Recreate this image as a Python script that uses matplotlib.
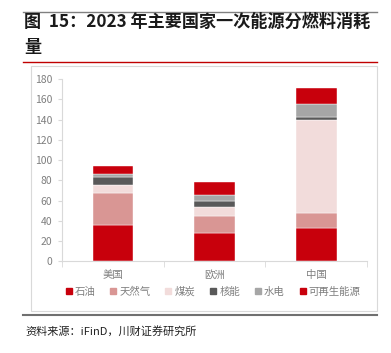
import numpy as np
import matplotlib.pyplot as plt
from matplotlib.patches import Rectangle
from matplotlib.lines import Line2D

plt.rcParams['font.family'] = ['Noto Sans CJK SC', 'DejaVu Sans']

regions = ['美国', '欧洲', '中国']
fuels = ['石油', '天然气', '煤炭', '核能', '水电', '可再生能源']
oil = [35.5, 28.0, 32.6]
gas = [31.9, 16.8, 14.8]
coal = [8.2, 8.9, 91.8]
nuclear = [7.9, 6.2, 3.5]
hydro = [2.4, 5.6, 12.4]
renew = [8.1, 12.6, 16.0]
colors = ['#C8000C', '#D99694', '#F2DCDB', '#595959', '#A6A6A6', '#C8000C']
yticks = [0, 20, 40, 60, 80, 100, 120, 140, 160, 180]

W, H = 391, 353
fig = plt.figure(figsize=(W / 100, H / 100), dpi=100)

# header / footer rules and chart frame
fig.add_artist(Line2D([23 / W, 377 / W], [1 - 12 / H, 1 - 12 / H], color='#808080', lw=1))
fig.add_artist(Line2D([23 / W, 377 / W], [1 - 62 / H, 1 - 62 / H], color='#C00000', lw=1))
fig.add_artist(Line2D([23 / W, 377 / W], [1 - 315 / H, 1 - 315 / H], color='#707070', lw=1.5))
fig.add_artist(Rectangle((31 / W, 1 - 311 / H), 346 / W, 245 / H, fill=False,
                         ec='#D9D9D9', lw=0.8))

fig.text(24 / W, 1 - 22 / H, '图  15：2023 年主要国家一次能源分燃料消耗', fontsize=12.3,
         fontweight='bold', va='center', ha='left', color='#1a1a1a')
fig.text(24 / W, 1 - 47 / H, '量', fontsize=12.3,
         fontweight='bold', va='center', ha='left', color='#1a1a1a')
fig.text(25 / W, 1 - 331 / H, '资料来源：iFinD，川财证券研究所', fontsize=8,
         style='italic', va='center', ha='left', color='#222222')

ax = fig.add_axes([62 / W, 1 - 261.3 / H, 305 / W, 182.3 / H])
x = np.arange(len(regions))
series = [oil, gas, coal, nuclear, hydro, renew]
bottom = np.zeros(len(regions))
for name, vals, c in zip(fuels, series, colors):
    ax.bar(x, vals, 0.4, bottom=bottom, color=c, label=name, edgecolor='white', linewidth=0.3)
    bottom += np.array(vals)

ax.set_xlim(-0.5, 2.5)
ax.set_ylim(0, 180)
ax.set_yticks(yticks)
ax.set_xticks(x)
ax.set_xticklabels(regions)
ax.set_xticks([-0.5, 0.5, 1.5, 2.5], minor=True)
ax.tick_params(axis='x', which='major', length=0, pad=6)
ax.tick_params(axis='x', which='minor', length=4, color='#D9D9D9')
ax.tick_params(axis='y', length=3, color='#D9D9D9', pad=4)
ax.tick_params(labelsize=7.5, labelcolor='#7F7F7F')
for s in ['top', 'right']:
    ax.spines[s].set_visible(False)
for s in ['left', 'bottom']:
    ax.spines[s].set_color('#D9D9D9')

handles = [Line2D([], [], marker='s', ls='', color=c, markersize=5) for c in colors]
fig.legend(handles, fuels, loc='center', bbox_to_anchor=(212 / W, 1 - 292 / H), ncol=6,
           frameon=False, fontsize=7.5, handletextpad=0.1, columnspacing=1.2,
           labelcolor='#7F7F7F', handlelength=1)

fig.savefig('out.png', dpi=100)
